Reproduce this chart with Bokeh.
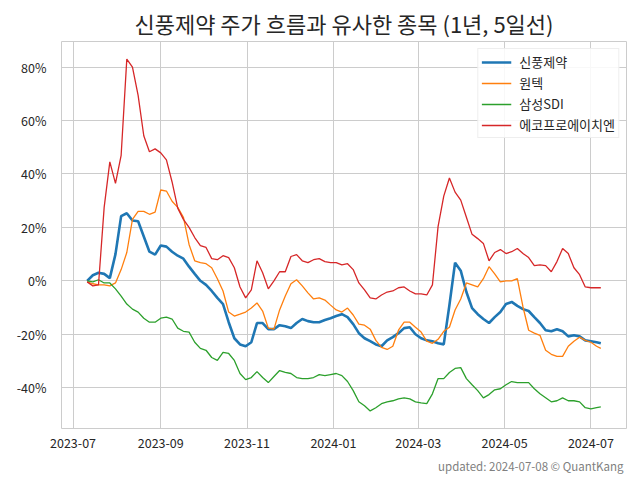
import pandas as pd
from bokeh.plotting import figure
from bokeh.models import (Range1d, FixedTicker, DatetimeTickFormatter, PrintfTickFormatter,
                          Title)
from bokeh.embed import file_html
from bokeh.resources import INLINE

FONT = "Noto Sans CJK KR"

# ---- data (percent change, 5-day moving average) ----
dates = list(pd.date_range("2023-07-11", periods=91, freq="4D")) + [pd.Timestamp("2024-07-08")]

shinpoong = [
    0, 2.1, 3.0, 2.6, 1.0, 10, 24.2, 25.3, 22.6, 22.3,
    16.6, 10.9, 9.8, 13.2, 12.8, 10.9, 9.4, 8.3, 5.3, 2.6,
    0, -1.5, -3.8, -6.4, -8.7, -15.5, -21.5, -23.8, -24.5, -23.0,
    -15.8, -15.8, -18.1, -18.1, -16.6, -17.0, -17.7, -15.8, -14.3, -15.1,
    -15.5, -15.5, -14.7, -14.0, -13.2, -12.5, -13.6, -16.2, -19.6, -21.5,
    -22.6, -23.8, -24.5, -22.3, -21.1, -19.6, -17.7, -17.4, -20.0, -21.5,
    -22.3, -22.6, -23.4, -23.8, -9.1, 6.8, 3.8, -4.2, -10.2, -12.5,
    -14.3, -15.8, -13.6, -11.7, -8.7, -7.9, -9.4, -10.6, -11.3, -13.6,
    -15.8, -18.5, -18.9, -18.1, -18.9, -20.8, -20.4, -20.8, -22.3, -22.6,
    -23.0, -23.4,
]
wontech = [
    -0.4, -1.1, -1.5, -1.5, -1.9, -0.8, 4.2, 10.6, 23.0, 26.0,
    26.0, 24.9, 25.7, 34.0, 33.6, 29.8, 27.5, 23.8, 13.6, 7.5,
    6.8, 6.4, 4.9, 0.8, -3.8, -11.7, -13.2, -12.5, -11.7, -10.2,
    -8.3, -11.3, -17.7, -18.1, -10.9, -5.7, -1.1, 0.4, -1.9, -4.5,
    -6.8, -6.4, -7.2, -9.1, -10.9, -11.7, -10.2, -12.8, -16.2, -16.6,
    -18.1, -22.3, -24.9, -25.7, -24.5, -18.5, -15.5, -15.5, -17.4, -19.2,
    -22.6, -23.4, -21.9, -18.9, -17.4, -10.9, -6.8, -0.8, -1.5, -2.3,
    0.8, 5.3, 2.6, -0.4, 0, 0, 0.8, -9.8, -18.5, -19.6,
    -20.4, -26.0, -27.5, -28.3, -28.3, -24.5, -22.6, -21.1, -22.3, -23.0,
    -24.5, -25.3,
]
samsung_sdi = [
    0, -0.4, 0.4, -0.8, -0.8, -3.0, -5.7, -8.7, -10.6, -11.7,
    -14.0, -15.5, -15.5, -14.0, -13.6, -14.3, -17.7, -18.9, -19.2, -23.0,
    -25.3, -26.0, -28.7, -29.8, -26.8, -27.2, -29.8, -34.7, -37.0, -36.2,
    -34.0, -36.2, -38.1, -35.8, -33.6, -34.3, -34.7, -36.2, -36.6, -36.6,
    -36.2, -35.1, -35.5, -35.1, -34.7, -35.5, -37.7, -41.1, -45.3, -46.8,
    -48.7, -47.5, -46.0, -45.3, -44.9, -44.2, -43.8, -44.2, -45.3, -45.7,
    -46.0, -42.3, -36.6, -36.6, -34.3, -32.8, -32.5, -36.6, -38.9, -41.1,
    -43.8, -42.6, -40.8, -40.4, -38.9, -37.7, -38.1, -38.1, -38.1, -40.4,
    -42.3, -43.8, -45.3, -44.9, -43.8, -44.9, -44.9, -45.3, -47.5, -47.9,
    -47.5, -47.2,
]
ecopro_hn = [
    -0.4, -1.9, -1.5, 27.5, 44.5, 36.5, 47.0, 83.0, 80.0, 69.4,
    54.3, 48.3, 49.4, 47.9, 45.3, 37.0, 27.2, 23.0, 20.0, 16.2,
    13.2, 12.5, 8.3, 7.9, 9.4, 8.7, 4.9, -2.3, -6.4, -3.4,
    7.5, 3.0, -3.0, 0, 3.4, 3.4, 9.1, 9.8, 7.5, 6.8,
    7.9, 8.3, 7.2, 6.8, 6.8, 6.0, 6.4, 4.2, -0.8, -3.4,
    -6.4, -6.8, -5.3, -4.2, -3.8, -2.6, -2.3, -3.8, -4.9, -4.9,
    -5.3, -1.5, 20.4, 31.7, 38.5, 33.2, 30.2, 23.8, 17.4, 15.8,
    14.0, 7.5, 10.6, 11.7, 10.2, 10.9, 12.1, 10.2, 8.7, 5.7,
    6.0, 5.7, 3.4, 7.2, 12.1, 10.2, 4.9, 2.3, -2.3, -2.6,
    -2.6, -2.6,
]

series_names = ["신풍제약", "원텍", "삼성SDI", "에코프로에이치엔"]
series_values = [shinpoong, wontech, samsung_sdi, ecopro_hn]
colors = ["#1f77b4", "#ff7f0e", "#2ca02c", "#d62728"]
widths = [2.6, 1.3, 1.3, 1.3]

x_tick_labels = ["2023-07", "2023-09", "2023-11", "2024-01", "2024-03", "2024-05", "2024-07"]
y_ticks = [-40, -20, 0, 20, 40, 60, 80]

title_text = "신풍제약 주가 흐름과 유사한 종목 (1년, 5일선)"
footer_text = "updated: 2024-07-08 © QuantKang"

# ---- ranges with 5% margins ----
x0, x1 = dates[0], dates[-1]
span = x1 - x0
xr = Range1d(x0 - span * 0.05, x1 + span * 0.05)
allv = [v for s in series_values for v in s]
vmin, vmax = min(allv), max(allv)
vspan = vmax - vmin
yr = Range1d(vmin - vspan * 0.05, vmax + vspan * 0.05)

p = figure(width=640, height=480, x_axis_type="datetime", x_range=xr, y_range=yr,
           output_backend="svg", toolbar_location=None,
           min_border_left=61, min_border_right=14, min_border_top=41, min_border_bottom=52)

p.title.text = title_text
p.title.align = "center"
p.title.text_font = FONT
p.title.text_font_size = "22px"
p.title.text_font_style = "normal"
p.title.text_color = "#262626"
p.title.standoff = 5

for name, vals, c, w in zip(series_names, series_values, colors, widths):
    p.line(dates, vals, line_color=c, line_width=w, legend_label=name)

# axes
tick_ms = [pd.Timestamp(t + "-01").value // 10**6 for t in x_tick_labels]
p.xaxis.ticker = FixedTicker(ticks=tick_ms)
fmt = "%Y-%m"
p.xaxis.formatter = DatetimeTickFormatter(days=fmt, months=fmt, years=fmt)
p.yaxis.ticker = FixedTicker(ticks=y_ticks)
p.yaxis.formatter = PrintfTickFormatter(format="%d%%")

for ax in (p.xaxis, p.yaxis):
    ax.axis_line_color = None
    ax.major_tick_line_color = None
    ax.minor_tick_line_color = None
    ax.major_label_text_font = FONT
    ax.major_label_text_font_size = "12.5px"
    ax.major_label_text_color = "#262626"
p.xaxis.major_label_standoff = 3
p.yaxis.major_label_standoff = 9

p.xgrid.ticker = p.xaxis.ticker
p.ygrid.ticker = p.yaxis.ticker
p.grid.grid_line_color = "#cccccc"
p.grid.grid_line_width = 1
p.outline_line_color = "#cccccc"
p.outline_line_width = 1

# legend
leg = p.legend[0]
leg.location = "top_right"
leg.margin = 7
leg.padding = 3
leg.spacing = 2
leg.glyph_width = 30
leg.glyph_height = 16
leg.label_height = 16
leg.label_standoff = 8
leg.label_text_font = FONT
leg.label_text_font_size = "13px"
leg.label_text_color = "#262626"
leg.border_line_color = "#dddddd"
leg.background_fill_alpha = 0.85

footer = Title(text=footer_text, align="right", text_font=FONT, text_font_size="11.5px",
               text_color="#808080", text_font_style="normal", offset=3)
p.add_layout(footer, "below")

p.background_fill_color = "white"
p.border_fill_color = "white"

open("out.html", "w").write(file_html(p, INLINE))
